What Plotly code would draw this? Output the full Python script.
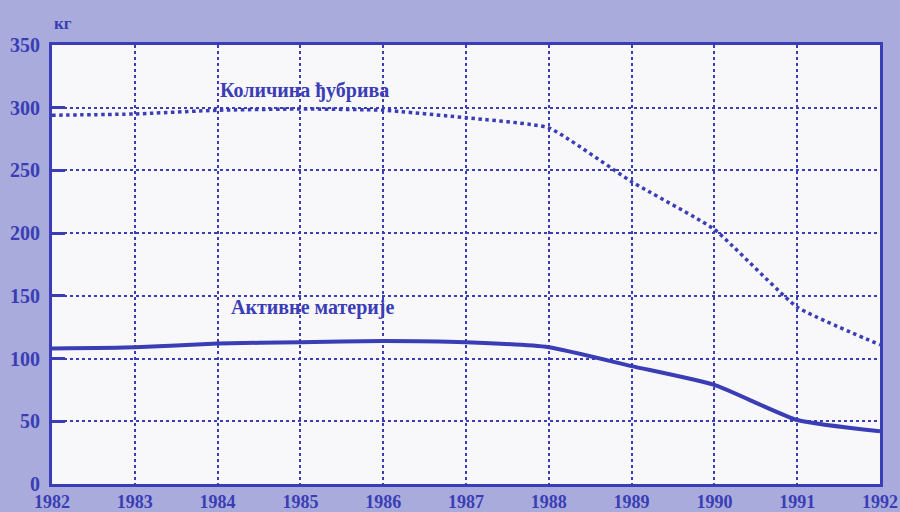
import plotly.graph_objects as go

years = [1982, 1983, 1984, 1985, 1986, 1987, 1988, 1989, 1990, 1991, 1992]
kolicina_djubriva = [294, 295, 298, 299, 298, 292, 284, 241, 203, 141, 111]
aktivne_materije = [108, 109, 112, 113, 114, 113, 109, 94, 79, 51, 42]

y_ticks = [0, 50, 100, 150, 200, 250, 300, 350]
x_ticks = years

label_upper = "Количина ђубрива"
label_lower = "Активне материје"
unit_label = "кг"

BLUE = "#3a3db5"
FONT = "Liberation Serif"

fig = go.Figure()
fig.add_trace(go.Scatter(
    x=years, y=kolicina_djubriva, mode="lines",
    line=dict(color=BLUE, width=3.5, dash="dot", shape="spline", smoothing=0.4),
    showlegend=False, hoverinfo="skip"))
fig.add_trace(go.Scatter(
    x=years, y=aktivne_materije, mode="lines",
    line=dict(color=BLUE, width=4, shape="spline", smoothing=0.5),
    showlegend=False, hoverinfo="skip"))

fig.add_annotation(x=1985.05, y=314, text=f"<b>{label_upper}</b>", showarrow=False,
                   font=dict(family=FONT, size=20, color=BLUE))
fig.add_annotation(x=1985.15, y=141, text=f"<b>{label_lower}</b>", showarrow=False,
                   font=dict(family=FONT, size=20, color=BLUE))
fig.add_annotation(xref="paper", yref="paper", x=0.0, y=1.075, xanchor="left",
                   text=f"<b>{unit_label}</b>", showarrow=False,
                   font=dict(family=FONT, size=17, color=BLUE))

fig.update_layout(
    autosize=False,
    width=900, height=512,
    margin=dict(l=52, r=20, t=45, b=28, autoexpand=False),
    paper_bgcolor="#a8abdb",
    plot_bgcolor="#f8f8fb",
    font=dict(family=FONT, color=BLUE),
    xaxis=dict(range=[1982, 1992], tickvals=x_ticks, ticktext=[str(v) for v in x_ticks],
               automargin=False, ticklabelstandoff=-1,
               showgrid=True, gridcolor=BLUE, gridwidth=1.5, griddash="dot",
               showline=True, linecolor=BLUE, linewidth=3, mirror=True,
               ticks="", tickfont=dict(family=FONT, size=18, color=BLUE, weight="bold"),
               zeroline=False, fixedrange=True),
    yaxis=dict(range=[0, 350], tickvals=y_ticks, automargin=False,
               showgrid=True, gridcolor=BLUE, gridwidth=1.5, griddash="dot",
               showline=True, linecolor=BLUE, linewidth=3, mirror=True,
               ticks="inside", ticklen=13, tickwidth=2.5, tickcolor=BLUE,
               ticklabelstandoff=5,
               tickfont=dict(family=FONT, size=20, color=BLUE, weight="bold"),
               zeroline=False, fixedrange=True),
)

post = ("document.body.style.margin='0';document.body.style.overflow='hidden';"
        "var gd=document.getElementById('{plot_id}');"
        "Plotly.relayout(gd, {width: 900, height: 512});")

fig.write_html("out.html", post_script=post, config={"displayModeBar": False})
